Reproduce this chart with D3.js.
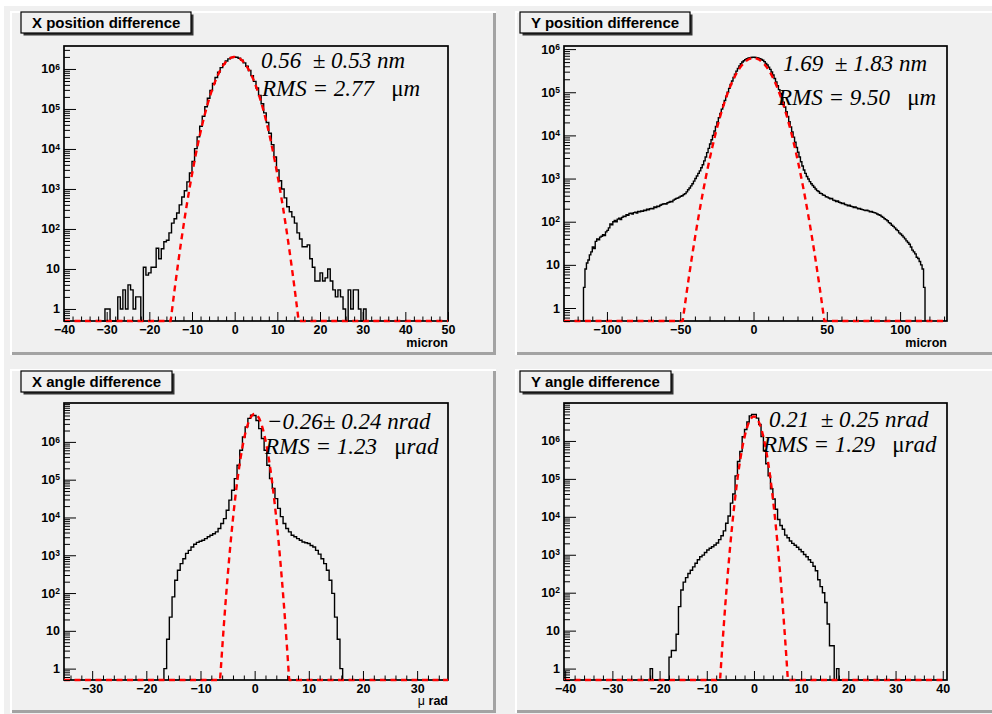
<!DOCTYPE html>
<html>
<head>
<meta charset="utf-8">
<script src="https://cdn.jsdelivr.net/npm/d3@7"></script>
<style>
  body { margin: 0; background: #ffffff; }
  svg { display: block; }
  .ann { white-space: pre; }
</style>
</head>
<body>
<svg id="canvas" width="992" height="714"></svg>
<script>
// ---------------- histogram contents ----------------
// X position difference (micron), bins of 0.6 starting at -31.0
const xPosStart = -31.0;
const xPosBin = 0.6;
const xPosCounts = [0,1,1,0,0,0,2,1,3,1,4,3,1,2,2,0,11,7,8,11,11,33,18,32,48,52,80,140,180,250,400,630,900,1500,2500,
  4900,10200,20000,37000,66000,114000,186000,290000,432000,614000,834000,1080000,1340000,1580000,1790000,1930000,2000000,
  1960000,1850000,1660000,1420000,1170000,914000,682000,488000,333000,217000,135000,80000,45700,24600,12800,6300,
  3000,1600,1000,600,360,270,200,140,80,56,36,36,40,18,11,5,5,8,5,6,10,5,3,2,3,2,1,0,3,1,3,3,1,0,1];

// Y position difference (micron), bins of 1.0 starting at -116
const yPosStart = -116;
const yPosBin = 1;
const yPosCounts = [
  3,8,11,13,17,20,26,24,35,40,38,44,46,50,48,58,63,72,89,85,
  100,107,100,115,120,112,126,135,132,145,141,155,158,151,162,166,158,174,170,178,
  174,186,182,195,190,200,204,200,219,214,229,224,240,251,257,263,257,275,282,295,
  288,316,331,347,355,372,389,398,427,447,490,550,603,676,759,871,1000,1150,1320,1510,
  1780,2090,2570,3160,3980,5010,6310,7940,10000,12600,16200,20400,25700,32400,40700,51300,64600,81300,100000,123000,
  151000,182000,219000,263000,309000,355000,407000,457000,501000,537000,569000,596000,617000,631000,638000,646000,
  646000,638000,631000,617000,596000,575000,550000,513000,468000,427000,
  380000,339000,295000,251000,209000,174000,141000,115000,93300,74100,
  58900,45700,35500,27500,20900,15800,12000,9120,6920,5250,
  4070,3160,2450,1950,1580,1320,1120,977,851,759,
  692,631,575,525,501,457,447,417,407,380,
  372,355,339,347,316,309,295,302,282,275,
  263,269,251,245,234,240,229,224,214,219,
  209,200,204,195,191,186,182,186,178,170,
  174,166,162,158,151,145,141,132,126,117,
  112,105,95,91,83,78,72,66,62,55,
  52,48,44,40,36,33,30,26,22,20,
  18,15,14,12,10,8,3];

// X angle difference (micro rad), bins of 0.5 starting at -16.75
const xAngStart = -16.75;
const xAngBin = 0.5;
const xAngCounts = [1,6,23,79,219,400,600,810,1120,1350,1660,1950,2190,2340,2500,2750,3090,3390,3700,4170,
  5130,6920,9330,15500,28800,52500,107000,240000,603000,1350000,2500000,4200000,
  5100000,5000000,
  3700000,2250000,1230000,600000,240000,107000,59000,31600,17400,10500,6920,5130,4170,3390,3090,2750,
  2500,2240,2140,2040,1820,1660,1350,1070,810,600,400,219,98,23,6,1];

// Y angle difference (micro rad), bins of 0.5 starting at -22.0
const yAngStart = -22.0;
const yAngBin = 0.5;
const yAngCounts = [1,0,0,0,0,0,0,0,2,3,3,8,43,118,190,250,320,390,480,600,740,890,980,1150,1330,1480,1620,1800,2050,2500,
  3160,4270,6760,10500,22900,39800,120000,288000,525000,1290000,2000000,3160000,4570000,5000000,
  5000000,4000000,2700000,1300000,560000,250000,120000,55000,29500,15800,8500,5900,4700,3300,2800,2300,
  2000,1780,1580,1380,1200,1020,890,740,630,500,380,220,145,100,55,15,4,4,0,1,0];

// Gaussian fit results: constant, mean, sigma
const fitConstant = [2.0e6, 6.2e5, 5.5e6, 4.4e6];
const fitMean = [0.00056, 0.00169, -0.00026, 0.00021];
const fitSigma = [2.72, 9.12, 1.12, 1.27];

// titles and labels
const titles = ["X position difference", "Y position difference", "X angle difference", "Y angle difference"];
const meanText = ["0.56  \u00b1 0.53 nm", "1.69  \u00b1 1.83 nm", "\u22120.26\u00b1 0.24 nrad", "0.21  \u00b1 0.25 nrad"];
const rmsText = ["2.77", "9.50", "1.23", "1.29"];
const rmsUnit = ["m", "m", "rad", "rad"];
const xTitles = ["micron", "micron", "\u03bc rad", ""];

// axis ranges and ticks
const xRanges = [[-40, 50], [-129.3, 132], [-35.2, 35.7], [-40.25, 40.9]];
const yRanges = [[0.5, 3.75e6], [0.5, 1.18e6], [0.5, 1.07e7], [0.5, 1.0e7]];
const xMajorTicks = [
  [-40, -30, -20, -10, 0, 10, 20, 30, 40, 50],
  [-100, -50, 0, 50, 100],
  [-30, -20, -10, 0, 10, 20, 30],
  [-40, -30, -20, -10, 0, 10, 20, 30, 40]
];
const xMinorStep = [2, 10, 2, 2];
const yLabelPowers = [0, 1, 2, 3, 4, 5, 6];

// ---------------- drawing ----------------
const svg = d3.select("#canvas");
const SANS = "'Liberation Sans', Arial, Helvetica, sans-serif";
const SERIF = "'Liberation Serif', 'Times New Roman', serif";

// layout of the four pads (pixels)
const layout = [
  { pad: [10, 11, 496, 355], frame: [64, 46, 448, 321], title: [21, 12],
    ann1: [261, 68], ann2: [262, 96], xt: [448, 347] },
  { pad: [515, 11, 1001, 355], frame: [564, 46, 947, 321], title: [520, 12],
    ann1: [783, 71], ann2: [778, 105], xt: [947, 347] },
  { pad: [10, 369, 496, 713], frame: [64, 403, 448, 680], title: [21, 371],
    ann1: [267, 429], ann2: [265, 454], xt: [448, 705] },
  { pad: [515, 369, 1001, 713], frame: [564, 403, 947, 680], title: [520, 371],
    ann1: [769, 427], ann2: [763, 452], xt: [947, 705] }
];

const hists = [
  { start: xPosStart, bin: xPosBin, counts: xPosCounts },
  { start: yPosStart, bin: yPosBin, counts: yPosCounts },
  { start: xAngStart, bin: xAngBin, counts: xAngCounts },
  { start: yAngStart, bin: yAngBin, counts: yAngCounts }
];

// canvas background
svg.append("rect").attr("x", 4).attr("y", 6).attr("width", 992 - 4).attr("height", 714 - 6)
  .attr("fill", "#f0f0f0");

const minusFmt = v => (v < 0 ? "\u2212" + Math.abs(v) : String(v));

function drawPanel(i) {
  const L = layout[i];
  const [px0, py0, px1, py1] = L.pad;
  const [fx0, fy0, fx1, fy1] = L.frame;
  const g = svg.append("g");

  // pad with bevelled border
  g.append("rect").attr("x", px0).attr("y", py0).attr("width", px1 - px0).attr("height", py1 - py0)
    .attr("fill", "#f0f0f0");
  g.append("rect").attr("x", px0).attr("y", py0).attr("width", px1 - px0).attr("height", 2).attr("fill", "#ffffff");
  g.append("rect").attr("x", px0).attr("y", py0).attr("width", 2).attr("height", py1 - py0).attr("fill", "#ffffff");
  g.append("rect").attr("x", px0 + 2).attr("y", py1 - 3).attr("width", px1 - px0 - 2).attr("height", 3).attr("fill", "#a3a3a3");
  g.append("rect").attr("x", px1 - 3).attr("y", py0 + 2).attr("width", 3).attr("height", py1 - py0 - 2).attr("fill", "#a3a3a3");

  const x = d3.scaleLinear().domain(xRanges[i]).range([fx0, fx1]);
  const yDom = yRanges[i];
  const y = d3.scaleLog().domain(yDom).range([fy1, fy0]);
  const ymin = yDom[0];

  // frame
  g.append("rect").attr("x", fx0).attr("y", fy0).attr("width", fx1 - fx0).attr("height", fy1 - fy0)
    .attr("fill", "none").attr("stroke", "#000").attr("stroke-width", 1.7);

  const clipId = "clip" + i;
  svg.append("clipPath").attr("id", clipId).append("rect")
    .attr("x", fx0).attr("y", fy0).attr("width", fx1 - fx0).attr("height", fy1 - fy0 + 3);

  // histogram outline
  const h = hists[i];
  const n = h.counts.length;
  const pts = [[h.start, ymin]];
  h.counts.forEach((c, k) => pts.push([h.start + k * h.bin, Math.max(c, ymin)]));
  pts.push([h.start + n * h.bin, Math.max(h.counts[n - 1], ymin)]);
  pts.push([h.start + n * h.bin, ymin]);
  const line = d3.line().x(d => x(d[0])).y(d => y(d[1])).curve(d3.curveStepAfter);
  g.append("path").attr("d", line(pts)).attr("clip-path", `url(#${clipId})`)
    .attr("fill", "none").attr("stroke", "#000").attr("stroke-width", 1.4);

  // gaussian fit function drawn over the full axis range
  const [xa, xb] = xRanges[i];
  const samples = d3.range(0, 801).map(k => xa + (xb - xa) * k / 800);
  const gaus = v => fitConstant[i] * Math.exp(-0.5 * Math.pow((v - fitMean[i]) / fitSigma[i], 2));
  const fline = d3.line().x(v => x(v)).y(v => y(Math.max(gaus(v), ymin)));
  g.append("path").attr("d", fline(samples)).attr("clip-path", `url(#${clipId})`)
    .attr("fill", "none").attr("stroke", "#ff0000").attr("stroke-width", 2.4)
    .attr("stroke-dasharray", "6,4.5");

  // x axis ticks
  const majors = xMajorTicks[i];
  const step = xMinorStep[i];
  const minors = d3.range(Math.ceil(xa / step) * step, xb + 1e-9, step)
    .filter(v => !majors.some(m => Math.abs(m - v) < 1e-9));
  g.append("g").attr("transform", `translate(0,${fy1})`)
    .call(d3.axisBottom(x).tickValues(minors).tickSize(-4.5).tickFormat(""))
    .call(a => a.select(".domain").remove());
  g.append("g").attr("transform", `translate(0,${fy1})`)
    .call(d3.axisBottom(x).tickValues(majors).tickSize(-9).tickPadding(4).tickFormat(minusFmt))
    .call(a => a.select(".domain").remove())
    .attr("font-family", SANS).attr("font-size", 12.5).attr("font-weight", "bold");

  // y axis ticks (logarithmic)
  const labelVals = yLabelPowers.map(p => Math.pow(10, p)).filter(v => v >= yDom[0] && v <= yDom[1]);
  const yMinor = [];
  d3.range(Math.floor(Math.log10(yDom[0])), Math.ceil(Math.log10(yDom[1])) + 1).forEach(d => {
    d3.range(1, 10).forEach(m => {
      const v = m * Math.pow(10, d);
      if (v >= yDom[0] * 0.999 && v <= yDom[1] * 1.001 &&
          !labelVals.some(l => Math.abs(l - v) / l < 1e-9)) yMinor.push(v);
    });
  });
  g.append("g").attr("transform", `translate(${fx0},0)`)
    .call(d3.axisLeft(y).tickValues(yMinor).tickSize(-6).tickFormat(""))
    .call(a => a.select(".domain").remove());
  const ya = g.append("g").attr("transform", `translate(${fx0},0)`)
    .call(d3.axisLeft(y).tickValues(labelVals).tickSize(-12).tickPadding(4).tickFormat(""))
    .call(a => a.select(".domain").remove())
    .attr("font-family", SANS).attr("font-size", 12.5).attr("font-weight", "bold");
  ya.selectAll(".tick text").each(function (v) {
    const t = d3.select(this);
    const p = Math.round(Math.log10(v));
    if (p === 0) t.text("1");
    else if (p === 1) t.text("10");
    else {
      t.append("tspan").text("10");
      t.append("tspan").attr("dy", "-0.45em").attr("font-size", 8.5).text(String(p));
    }
  });

  // x axis title
  if (xTitles[i]) {
    const xt = g.append("text").attr("x", L.xt[0]).attr("y", L.xt[1]).attr("text-anchor", "end")
      .attr("font-family", SANS).attr("font-size", 12.5).attr("font-weight", "bold");
    if (xTitles[i].startsWith("\u03bc")) {
      xt.append("tspan").attr("font-weight", "normal").text("\u03bc");
      xt.append("tspan").text(xTitles[i].slice(1));
    } else xt.text(xTitles[i]);
  }

  // fit result annotation
  g.append("text").attr("class", "ann").attr("x", L.ann1[0]).attr("y", L.ann1[1])
    .attr("font-family", SERIF).attr("font-style", "italic").attr("font-size", 23)
    .text(meanText[i]);
  const a2 = g.append("text").attr("class", "ann").attr("x", L.ann2[0]).attr("y", L.ann2[1])
    .attr("font-family", SERIF).attr("font-style", "italic").attr("font-size", 23);
  a2.append("tspan").text("RMS = " + rmsText[i] + "   ");
  a2.append("tspan").attr("font-style", "normal").text("\u03bc");
  a2.append("tspan").text(rmsUnit[i]);

  // title box with shadow
  const [tx, ty] = L.title;
  const tg = g.append("g");
  const shadow = tg.append("rect");
  const box = tg.append("rect");
  const tt = tg.append("text").attr("x", tx + 11).attr("y", ty + 16.3)
    .attr("font-family", SANS).attr("font-size", 15).attr("font-weight", "bold").text(titles[i]);
  const tw = tt.node().getComputedTextLength();
  const bw = Math.round(tw + 22), bh = 21;
  shadow.attr("x", tx + 2.5).attr("y", ty + 2.5).attr("width", bw).attr("height", bh).attr("fill", "#333");
  box.attr("x", tx).attr("y", ty).attr("width", bw).attr("height", bh)
    .attr("fill", "#f0f0f0").attr("stroke", "#000").attr("stroke-width", 1.2);
}

[0, 1, 2, 3].forEach(drawPanel);
</script>
</body>
</html>
